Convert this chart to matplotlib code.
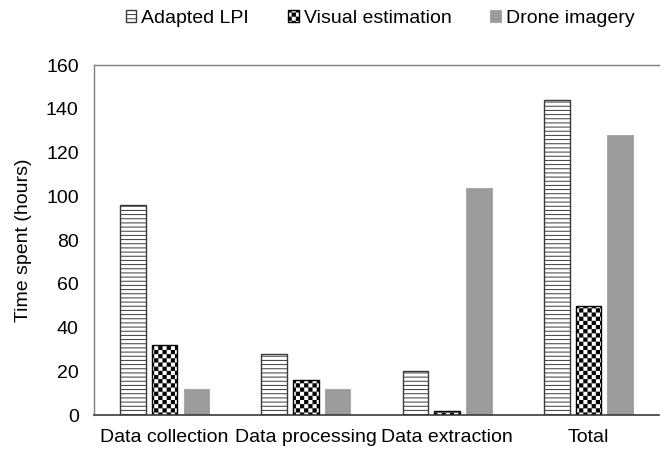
import warnings
import numpy as np
import matplotlib
matplotlib.use("Agg")
import matplotlib.pyplot as plt
import matplotlib.hatch as mhatch
from matplotlib.path import Path

warnings.filterwarnings("ignore")

categories = ["Data collection", "Data processing", "Data extraction", "Total"]
series_names = ["Adapted LPI", "Visual estimation", "Drone imagery"]
adapted_lpi = [96, 28, 20, 144]
visual_estimation = [32, 16, 2, 50]
drone_imagery = [12, 12, 104, 128]
y_ticks = [0, 20, 40, 60, 80, 100, 120, 140, 160]


class CheckerHatch(mhatch.HatchPatternBase):
    """Filled checkerboard squares, selected with the '#' hatch character."""

    def __init__(self, hatch, density):
        count = hatch.count("#")
        self.n = 12 * count
        if self.n:
            self.num_squares = (self.n * self.n) // 2
        else:
            self.num_squares = 0
        self.num_vertices = self.num_squares * 5

    def set_vertices_and_codes(self, vertices, codes):
        step = 1.0 / self.n
        side = step * 0.78
        pad = (step - side) / 2
        sq = np.array([[0, 0], [side, 0], [side, side], [0, side], [0, 0]])
        sq_codes = [Path.MOVETO, Path.LINETO, Path.LINETO, Path.LINETO,
                    Path.CLOSEPOLY]
        vparts, cparts = [], []
        for i in range(self.n):
            for j in range(self.n):
                if (i + j) % 2 == 0:
                    vparts.append(sq + [i * step + pad, j * step + pad])
                    cparts.append(sq_codes)
        vertices[:] = np.concatenate(vparts)
        codes[:] = np.concatenate(cparts)


mhatch._hatch_types.append(CheckerHatch)

plt.rcParams["font.family"] = ["Liberation Sans", "DejaVu Sans"]
plt.rcParams["hatch.linewidth"] = 0.7

FS = 14

fig = plt.figure(figsize=(6.61, 4.51), dpi=100)
ax = fig.add_axes([0.1422, 0.0798, 0.855, 0.776])

x = np.arange(len(categories))
step = 0.224
width = 0.181

ax.bar(x - step, adapted_lpi, width, color="white", edgecolor="#3a3a3a",
       hatch="----", linewidth=1.0, label=series_names[0])
ax.bar(x, visual_estimation, width, color="white", edgecolor="black",
       hatch="##", linewidth=1.0, label=series_names[1])
ax.bar(x + step, drone_imagery, width, color="#9b9b9b", edgecolor="#a8a8a8",
       linewidth=0.8, label=series_names[2])

ax.set_xlim(-0.5, 3.5)
ax.set_ylim(0, 160)
ax.set_yticks(y_ticks)
ax.set_xticks(x)
ax.set_xticklabels(categories)
ax.tick_params(axis="both", length=0, labelsize=FS, colors="black")
ax.tick_params(axis="y", pad=11)
ax.tick_params(axis="x", pad=10)
ax.set_ylabel("Time spent (hours)", fontsize=FS, labelpad=10)

for side in ("left", "top"):
    ax.spines[side].set_color("#7f7f7f")
    ax.spines[side].set_linewidth(1.0)
ax.spines["bottom"].set_color("#3a3a3a")
ax.spines["bottom"].set_linewidth(1.2)
ax.spines["right"].set_visible(False)

fig.legend(loc="center", bbox_to_anchor=(0.575, 0.96), ncol=3, frameon=False,
           fontsize=FS, handlelength=0.55, handleheight=0.55,
           handletextpad=0.25, columnspacing=2.0)

fig.savefig("out.png", dpi=100)
